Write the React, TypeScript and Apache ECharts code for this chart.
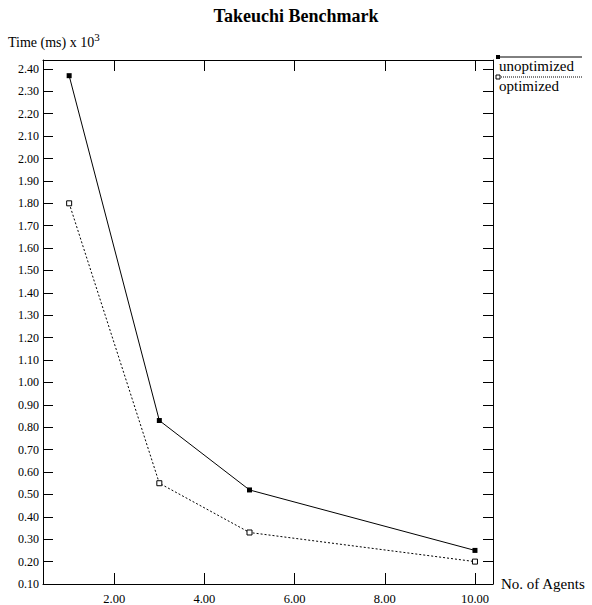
import React, { useEffect, useRef } from "react";
import * as echarts from "echarts";

const agents = [1, 3, 5, 10];
const unoptimized = [2.37, 0.83, 0.52, 0.25];
const optimized = [1.8, 0.55, 0.33, 0.2];
const xTicks = [2, 4, 6, 8, 10];
const yTicks = [0.1, 0.2, 0.3, 0.4, 0.5, 0.6, 0.7, 0.8, 0.9, 1.0, 1.1, 1.2, 1.3, 1.4, 1.5, 1.6, 1.7, 1.8, 1.9, 2.0, 2.1, 2.2, 2.3, 2.4];

const FONT = "'Liberation Serif', 'DejaVu Serif', serif";

export default function App() {
  const ref = useRef<HTMLDivElement>(null);
  useEffect(() => {
    document.body.style.margin = "0";
    if (!ref.current) return;
    const chart = echarts.init(ref.current, undefined, { renderer: "svg" });
    const gridL = 43, gridT = 60, gridR = 99, gridB = 21;
    const xMin = 0.42, xMax = 10.4, yMin = 0.1, yMax = 2.44;
    const baseX = (pos: string, show: boolean) => ({
      type: "value",
      position: pos,
      min: xMin,
      max: xMax,
      splitLine: { show: false },
      axisLine: { show: true, onZero: false, lineStyle: { color: "#000", width: 1 } },
      axisTick: { show: true, inside: true, length: 11, customValues: xTicks, lineStyle: { color: "#000" } },
      axisLabel: {
        show,
        customValues: xTicks,
        formatter: (v: number) => v.toFixed(2),
        fontFamily: FONT,
        fontSize: 12.5,
        color: "#000",
        margin: 8,
      },
    });
    const baseY = (pos: string, show: boolean) => ({
      type: "value",
      position: pos,
      min: yMin,
      max: yMax,
      splitLine: { show: false },
      axisLine: { show: true, onZero: false, lineStyle: { color: "#000", width: 1 } },
      axisTick: { show: true, inside: true, length: 10, customValues: yTicks, lineStyle: { color: "#000" } },
      axisLabel: {
        show,
        customValues: yTicks,
        formatter: (v: number) => v.toFixed(2),
        fontFamily: FONT,
        fontSize: 12,
        color: "#000",
        margin: 4,
      },
    });
    const xBottom: any = baseX("bottom", true);
    xBottom.name = "No. of Agents";
    xBottom.nameLocation = "end";
    xBottom.nameGap = 8;
    xBottom.nameTextStyle = { fontFamily: FONT, fontSize: 15, color: "#000", align: "left", verticalAlign: "middle" };
    const option: any = {
      animation: false,
      backgroundColor: "#fff",
      title: {
        text: "Takeuchi Benchmark",
        left: "center",
        top: 2,
        textStyle: { fontFamily: FONT, fontSize: 18, fontWeight: "bold", color: "#000" },
      },
      grid: { left: gridL, top: gridT, right: gridR, bottom: gridB, containLabel: false },
      xAxis: [xBottom, baseX("top", false)],
      yAxis: [baseY("left", true), baseY("right", false)],
      series: [
        {
          name: "unoptimized",
          type: "line",
          data: agents.map((a, i) => [a, unoptimized[i]]),
          symbol: "rect",
          symbolSize: 5,
          itemStyle: { color: "#000", borderColor: "#000", borderWidth: 0 },
          lineStyle: { color: "#000", width: 1, type: "solid" },
        },
        {
          name: "optimized",
          type: "line",
          data: agents.map((a, i) => [a, optimized[i]]),
          symbol: "rect",
          symbolSize: 5,
          itemStyle: { color: "#fff", borderColor: "#000", borderWidth: 1 },
          lineStyle: { color: "#000", width: 1, type: [2, 2] },
        },
      ],
      graphic: [
        {
          type: "text",
          left: 8,
          top: 31,
          style: {
            text: "{a|Time (ms) x 10}{b|3}",
            rich: {
              a: { fontFamily: FONT, fontSize: 14, color: "#000", verticalAlign: "bottom" },
              b: { fontFamily: FONT, fontSize: 11, color: "#000", verticalAlign: "top", padding: [0, 0, 7, 0] },
            },
          },
        },
        { type: "line", shape: { x1: 497, y1: 57, x2: 582, y2: 57 }, style: { stroke: "#000", lineWidth: 1 } },
        { type: "rect", shape: { x: 496, y: 55, width: 4, height: 4 }, style: { fill: "#000" } },
        { type: "text", left: 499, top: 58, style: { text: "unoptimized", fontFamily: FONT, fontSize: 15, fill: "#000" } },
        { type: "line", shape: { x1: 497, y1: 77, x2: 582, y2: 77 }, style: { stroke: "#000", lineWidth: 1, lineDash: [1, 1] } },
        { type: "rect", shape: { x: 496, y: 75, width: 4, height: 4 }, style: { fill: "#fff", stroke: "#000", lineWidth: 1 } },
        { type: "text", left: 499, top: 78, style: { text: "optimized", fontFamily: FONT, fontSize: 15, fill: "#000" } },
      ],
    };
    chart.setOption(option);
    return () => chart.dispose();
  }, []);
  return <div ref={ref} style={{ width: 592, height: 605 }} />;
}
